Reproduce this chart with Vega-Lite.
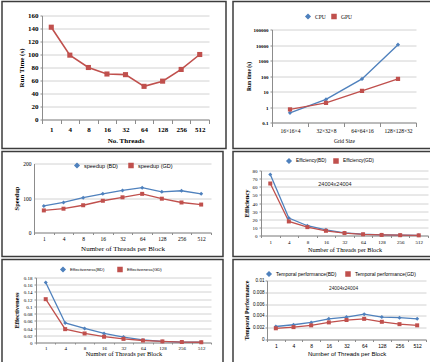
{
  "$schema": "https://vega.github.io/schema/vega-lite/v6.json",
  "background": "white",
  "padding": {"left": 1, "top": 0.5, "right": 0, "bottom": 0},
  "spacing": 1,
  "resolve": {"scale": {"color": "independent", "shape": "independent"}, "legend": {"color": "independent", "shape": "independent"}},
  "vconcat": [
    {
      "spacing": 5,
      "resolve": {"scale": {"color": "independent", "shape": "independent"}, "legend": {"color": "independent", "shape": "independent"}},
      "hconcat": [
        {
          "width": 224, "height": 147,
          "data": {"values": [
            {"t": "1", "v": 142}, {"t": "4", "v": 99}, {"t": "8", "v": 80}, {"t": "16", "v": 70}, {"t": "32", "v": 69},
            {"t": "64", "v": 51}, {"t": "128", "v": 59}, {"t": "256", "v": 77}, {"t": "512", "v": 100}
          ]},
          "encoding": {
            "x": {"field": "t", "type": "ordinal", "sort": null,
              "scale": {"type": "band", "range": [40, 207], "paddingInner": 0, "paddingOuter": 0},
              "axis": {"title": "No. Threads", "offset": -29, "tickSize": 4, "labelPadding": 2, "labelFontSize": 7, "labelFontWeight": "bold", "titleFontSize": 7, "titleFontWeight": "bold", "titlePadding": 4, "labelOverlap": false}},
            "y": {"field": "v", "type": "quantitative",
              "scale": {"domain": [0, 160], "range": [118, 14], "nice": false},
              "axis": {"title": "Run Time (s)", "values": [0, 20, 40, 60, 80, 100, 120, 140, 160], "offset": -40, "tickSize": 2, "labelPadding": 2, "labelFontSize": 7, "labelFontWeight": "bold", "titleFontSize": 7, "titleFontWeight": "bold", "titlePadding": 3}}
          },
          "layer": [
            {"mark": {"type": "line", "color": "#C0504D", "strokeWidth": 1.6}},
            {"mark": {"type": "square", "color": "#C0504D", "filled": true, "opacity": 1, "size": 26}}
          ]
        },
        {
          "width": 198, "height": 147,
          "data": {"values": [
            {"g": "16×16×4", "s": "CPU", "v": 0.42}, {"g": "32×32×8", "s": "CPU", "v": 3.1}, {"g": "64×64×16", "s": "CPU", "v": 65}, {"g": "128×128×32", "s": "CPU", "v": 10500},
            {"g": "16×16×4", "s": "GPU", "v": 0.7}, {"g": "32×32×8", "s": "GPU", "v": 1.85}, {"g": "64×64×16", "s": "GPU", "v": 11}, {"g": "128×128×32", "s": "GPU", "v": 65}
          ]},
          "encoding": {
            "x": {"field": "g", "type": "ordinal", "sort": null,
              "scale": {"type": "band", "range": [39, 183], "paddingInner": 0, "paddingOuter": 0},
              "axis": {"title": "Grid Size", "offset": -26, "tickSize": 4, "labelPadding": 2, "labelFontSize": 5.5, "titleFontSize": 5.5, "titleFontWeight": "normal", "titlePadding": 4, "labelOverlap": false}},
            "y": {"field": "v", "type": "quantitative",
              "scale": {"type": "log", "domain": [0.1, 100000], "range": [121, 28], "nice": false},
              "axis": {"title": "Run time (s)", "values": [0.1, 1, 10, 100, 1000, 10000, 100000], "format": "~g", "offset": -39, "tickSize": 2, "labelPadding": 2, "labelFontSize": 5, "labelFontWeight": "bold", "titleFontSize": 5.5, "titleFontWeight": "bold", "titlePadding": 2, "labelOverlap": false}}
          },
          "layer": [
            {"mark": {"type": "line", "strokeWidth": 1.4},
              "encoding": {"color": {"field": "s", "type": "nominal", "scale": {"domain": ["CPU", "GPU"], "range": ["#4F81BD", "#C0504D"]},
                "legend": {"title": null, "orient": "none", "direction": "horizontal", "legendX": 72, "legendY": 12, "labelFont": "Liberation Serif", "labelFontSize": 5.5, "columnPadding": 3, "symbolSize": 16, "padding": 0}}}},
            {"mark": {"type": "point", "filled": true, "opacity": 1, "size": 18},
              "encoding": {
                "color": {"field": "s", "type": "nominal", "scale": {"domain": ["CPU", "GPU"], "range": ["#4F81BD", "#C0504D"]},
                  "legend": {"title": null, "orient": "none", "direction": "horizontal", "legendX": 72, "legendY": 12, "labelFont": "Liberation Serif", "labelFontSize": 5.5, "columnPadding": 3, "symbolSize": 16, "padding": 0}},
                "shape": {"field": "s", "type": "nominal", "scale": {"domain": ["CPU", "GPU"], "range": ["diamond", "square"]},
                  "legend": {"title": null, "orient": "none", "direction": "horizontal", "legendX": 72, "legendY": 12, "labelFont": "Liberation Serif", "labelFontSize": 5.5, "columnPadding": 3, "symbolSize": 16, "padding": 0}}
              }}
          ]
        }
      ]
    },
    {
      "spacing": 8,
      "resolve": {"scale": {"color": "independent", "shape": "independent"}, "legend": {"color": "independent", "shape": "independent"}},
      "hconcat": [
        {
          "width": 221, "height": 105,
          "data": {"values": [
            {"t": "1", "s": "speedup (BD)", "v": 77}, {"t": "4", "s": "speedup (BD)", "v": 87}, {"t": "8", "s": "speedup (BD)", "v": 101}, {"t": "16", "s": "speedup (BD)", "v": 112}, {"t": "32", "s": "speedup (BD)", "v": 122},
            {"t": "64", "s": "speedup (BD)", "v": 130}, {"t": "128", "s": "speedup (BD)", "v": 118}, {"t": "256", "s": "speedup (BD)", "v": 121}, {"t": "512", "s": "speedup (BD)", "v": 112},
            {"t": "1", "s": "speedup (GD)", "v": 64}, {"t": "4", "s": "speedup (GD)", "v": 69}, {"t": "8", "s": "speedup (GD)", "v": 79}, {"t": "16", "s": "speedup (GD)", "v": 92}, {"t": "32", "s": "speedup (GD)", "v": 102},
            {"t": "64", "s": "speedup (GD)", "v": 112}, {"t": "128", "s": "speedup (GD)", "v": 98}, {"t": "256", "s": "speedup (GD)", "v": 87}, {"t": "512", "s": "speedup (GD)", "v": 81}
          ]},
          "encoding": {
            "x": {"field": "t", "type": "ordinal", "sort": null,
              "scale": {"type": "band", "range": [32, 209], "paddingInner": 0, "paddingOuter": 0},
              "axis": {"title": "Number of Threads per Block", "offset": -24, "tickSize": 2, "labelPadding": 1.5, "labelFontSize": 5.5, "titleFontSize": 7, "titleFontWeight": "normal", "titlePadding": 2.5, "labelOverlap": false}},
            "y": {"field": "v", "type": "quantitative",
              "scale": {"domain": [0, 200], "range": [81, 12], "nice": false},
              "axis": {"title": "Speedup", "values": [0, 100, 200], "offset": -32, "tickSize": 0, "labelPadding": 3, "labelFontSize": 5.5, "titleFontSize": 6.5, "titleFontWeight": "bold", "titlePadding": 3.5}}
          },
          "layer": [
            {"mark": {"type": "line", "strokeWidth": 1.3},
              "encoding": {"color": {"field": "s", "type": "nominal", "scale": {"domain": ["speedup (BD)", "speedup (GD)"], "range": ["#4F81BD", "#C0504D"]},
                "legend": {"title": null, "orient": "none", "direction": "horizontal", "legendX": 72, "legendY": 11, "labelFont": "Liberation Sans", "labelFontSize": 5.5, "columnPadding": 8, "symbolSize": 16, "padding": 0}}}},
            {"mark": {"type": "point", "filled": true, "opacity": 1, "size": 16},
              "encoding": {
                "color": {"field": "s", "type": "nominal", "scale": {"domain": ["speedup (BD)", "speedup (GD)"], "range": ["#4F81BD", "#C0504D"]},
                  "legend": {"title": null, "orient": "none", "direction": "horizontal", "legendX": 72, "legendY": 11, "labelFont": "Liberation Sans", "labelFontSize": 5.5, "columnPadding": 8, "symbolSize": 16, "padding": 0}},
                "shape": {"field": "s", "type": "nominal", "scale": {"domain": ["speedup (BD)", "speedup (GD)"], "range": ["diamond", "square"]},
                  "legend": {"title": null, "orient": "none", "direction": "horizontal", "legendX": 72, "legendY": 11, "labelFont": "Liberation Sans", "labelFontSize": 5.5, "columnPadding": 8, "symbolSize": 16, "padding": 0}}
              }}
          ]
        },
        {
          "width": 198, "height": 105,
          "data": {"values": [
            {"t": "1", "s": "Efficiency(BD)", "v": 75}, {"t": "4", "s": "Efficiency(BD)", "v": 21.4}, {"t": "8", "s": "Efficiency(BD)", "v": 12}, {"t": "16", "s": "Efficiency(BD)", "v": 7}, {"t": "32", "s": "Efficiency(BD)", "v": 3.3},
            {"t": "64", "s": "Efficiency(BD)", "v": 1.6}, {"t": "128", "s": "Efficiency(BD)", "v": 0.8}, {"t": "256", "s": "Efficiency(BD)", "v": 0.4}, {"t": "512", "s": "Efficiency(BD)", "v": 0.2},
            {"t": "1", "s": "Efficiency(GD)", "v": 64}, {"t": "4", "s": "Efficiency(GD)", "v": 17.3}, {"t": "8", "s": "Efficiency(GD)", "v": 10.3}, {"t": "16", "s": "Efficiency(GD)", "v": 5.8}, {"t": "32", "s": "Efficiency(GD)", "v": 3},
            {"t": "64", "s": "Efficiency(GD)", "v": 1.5}, {"t": "128", "s": "Efficiency(GD)", "v": 0.7}, {"t": "256", "s": "Efficiency(GD)", "v": 0.4}, {"t": "512", "s": "Efficiency(GD)", "v": 0.2}
          ]},
          "encoding": {
            "x": {"field": "t", "type": "ordinal", "sort": null,
              "scale": {"type": "band", "range": [28, 195], "paddingInner": 0, "paddingOuter": 0},
              "axis": {"title": "Number  of Threads per Block", "offset": -21, "tickSize": 2, "labelPadding": 2, "labelFontSize": 5, "titleFontSize": 6.2, "titleFontWeight": "normal", "titlePadding": 1.5, "labelOverlap": false}},
            "y": {"field": "v", "type": "quantitative",
              "scale": {"domain": [0, 80], "range": [84, 19], "nice": false},
              "axis": {"title": "Efficiency", "values": [0, 10, 20, 30, 40, 50, 60, 70, 80], "offset": -28, "tickSize": 2, "labelPadding": 2, "labelFontSize": 5, "titleFontSize": 6.5, "titleFontWeight": "bold", "titlePadding": 2.5}}
          },
          "layer": [
            {"mark": {"type": "line", "strokeWidth": 1.3},
              "encoding": {"color": {"field": "s", "type": "nominal", "scale": {"domain": ["Efficiency(BD)", "Efficiency(GD)"], "range": ["#4F81BD", "#C0504D"]},
                "legend": {"title": null, "orient": "none", "direction": "horizontal", "legendX": 53, "legendY": 6.5, "labelFont": "Liberation Sans", "labelFontSize": 4.8, "columnPadding": 4, "symbolSize": 16, "padding": 0}}}},
            {"mark": {"type": "point", "filled": true, "opacity": 1, "size": 16},
              "encoding": {
                "color": {"field": "s", "type": "nominal", "scale": {"domain": ["Efficiency(BD)", "Efficiency(GD)"], "range": ["#4F81BD", "#C0504D"]},
                  "legend": {"title": null, "orient": "none", "direction": "horizontal", "legendX": 53, "legendY": 6.5, "labelFont": "Liberation Sans", "labelFontSize": 4.8, "columnPadding": 4, "symbolSize": 16, "padding": 0}},
                "shape": {"field": "s", "type": "nominal", "scale": {"domain": ["Efficiency(BD)", "Efficiency(GD)"], "range": ["diamond", "square"]},
                  "legend": {"title": null, "orient": "none", "direction": "horizontal", "legendX": 53, "legendY": 6.5, "labelFont": "Liberation Sans", "labelFontSize": 4.8, "columnPadding": 4, "symbolSize": 16, "padding": 0}}
              }},
            {"data": {"values": [{"t": "16", "v": 62.8, "label": "24004x24004"}]},
              "mark": {"type": "text", "dx": 9, "font": "Liberation Sans", "fontSize": 5.5, "color": "#222"},
              "encoding": {"text": {"field": "label"}}}
          ]
        }
      ]
    },
    {
      "spacing": 8,
      "resolve": {"scale": {"color": "independent", "shape": "independent"}, "legend": {"color": "independent", "shape": "independent"}},
      "hconcat": [
        {
          "width": 221, "height": 104,
          "data": {"values": [
            {"t": "1", "s": "Effectiveness(BD)", "v": 0.166}, {"t": "4", "s": "Effectiveness(BD)", "v": 0.054}, {"t": "8", "s": "Effectiveness(BD)", "v": 0.039}, {"t": "16", "s": "Effectiveness(BD)", "v": 0.025}, {"t": "32", "s": "Effectiveness(BD)", "v": 0.015},
            {"t": "64", "s": "Effectiveness(BD)", "v": 0.007}, {"t": "128", "s": "Effectiveness(BD)", "v": 0.003}, {"t": "256", "s": "Effectiveness(BD)", "v": 0.0013}, {"t": "512", "s": "Effectiveness(BD)", "v": 0.0008},
            {"t": "1", "s": "Effectiveness(GD)", "v": 0.12}, {"t": "4", "s": "Effectiveness(GD)", "v": 0.037}, {"t": "8", "s": "Effectiveness(GD)", "v": 0.025}, {"t": "16", "s": "Effectiveness(GD)", "v": 0.016}, {"t": "32", "s": "Effectiveness(GD)", "v": 0.01},
            {"t": "64", "s": "Effectiveness(GD)", "v": 0.0055}, {"t": "128", "s": "Effectiveness(GD)", "v": 0.003}, {"t": "256", "s": "Effectiveness(GD)", "v": 0.0013}, {"t": "512", "s": "Effectiveness(GD)", "v": 0.0007}
          ]},
          "encoding": {
            "x": {"field": "t", "type": "ordinal", "sort": null,
              "scale": {"type": "band", "range": [34, 209], "paddingInner": 0, "paddingOuter": 0},
              "axis": {"title": "Number  of Threads per Block", "offset": -21, "tickSize": 1.5, "labelPadding": 1, "labelFontSize": 5, "titleFontSize": 6.4, "titleFontWeight": "normal", "titlePadding": 0.5, "labelOverlap": false}},
            "y": {"field": "v", "type": "quantitative",
              "scale": {"domain": [0, 0.18], "range": [83, 18], "nice": false},
              "axis": {"title": "Effectiveness", "values": [0, 0.02, 0.04, 0.06, 0.08, 0.1, 0.12, 0.14, 0.16, 0.18], "format": "~g", "offset": -34, "tickSize": 2, "labelPadding": 2, "labelFontSize": 5, "titleFontSize": 6.5, "titleFontWeight": "bold", "titlePadding": 4}}
          },
          "layer": [
            {"mark": {"type": "line", "strokeWidth": 1.3},
              "encoding": {"color": {"field": "s", "type": "nominal", "scale": {"domain": ["Effectiveness(BD)", "Effectiveness(GD)"], "range": ["#4F81BD", "#C0504D"]},
                "legend": {"title": null, "orient": "none", "direction": "horizontal", "legendX": 58, "legendY": 7, "labelFont": "Liberation Sans", "labelFontSize": 4.3, "columnPadding": 10, "symbolSize": 16, "padding": 0}}}},
            {"mark": {"type": "point", "filled": true, "opacity": 1, "size": 16},
              "encoding": {
                "color": {"field": "s", "type": "nominal", "scale": {"domain": ["Effectiveness(BD)", "Effectiveness(GD)"], "range": ["#4F81BD", "#C0504D"]},
                  "legend": {"title": null, "orient": "none", "direction": "horizontal", "legendX": 58, "legendY": 7, "labelFont": "Liberation Sans", "labelFontSize": 4.3, "columnPadding": 10, "symbolSize": 16, "padding": 0}},
                "shape": {"field": "s", "type": "nominal", "scale": {"domain": ["Effectiveness(BD)", "Effectiveness(GD)"], "range": ["diamond", "square"]},
                  "legend": {"title": null, "orient": "none", "direction": "horizontal", "legendX": 58, "legendY": 7, "labelFont": "Liberation Sans", "labelFontSize": 4.3, "columnPadding": 10, "symbolSize": 16, "padding": 0}}
              }}
          ]
        },
        {
          "width": 198, "height": 104,
          "data": {"values": [
            {"t": "1", "s": "Temporal performance(BD)", "v": 0.0022}, {"t": "4", "s": "Temporal performance(BD)", "v": 0.0025}, {"t": "8", "s": "Temporal performance(BD)", "v": 0.0029}, {"t": "16", "s": "Temporal performance(BD)", "v": 0.0035}, {"t": "32", "s": "Temporal performance(BD)", "v": 0.0038},
            {"t": "64", "s": "Temporal performance(BD)", "v": 0.0043}, {"t": "128", "s": "Temporal performance(BD)", "v": 0.0038}, {"t": "256", "s": "Temporal performance(BD)", "v": 0.0037}, {"t": "512", "s": "Temporal performance(BD)", "v": 0.0035},
            {"t": "1", "s": "Temporal performance(GD)", "v": 0.0019}, {"t": "4", "s": "Temporal performance(GD)", "v": 0.0021}, {"t": "8", "s": "Temporal performance(GD)", "v": 0.0024}, {"t": "16", "s": "Temporal performance(GD)", "v": 0.0029}, {"t": "32", "s": "Temporal performance(GD)", "v": 0.0033},
            {"t": "64", "s": "Temporal performance(GD)", "v": 0.0035}, {"t": "128", "s": "Temporal performance(GD)", "v": 0.003}, {"t": "256", "s": "Temporal performance(GD)", "v": 0.0026}, {"t": "512", "s": "Temporal performance(GD)", "v": 0.0024}
          ]},
          "encoding": {
            "x": {"field": "t", "type": "ordinal", "sort": null,
              "scale": {"type": "band", "range": [34, 193], "paddingInner": 0, "paddingOuter": 0},
              "axis": {"title": "Number of Threads per Block", "offset": -24, "tickSize": 2, "labelPadding": 1.5, "labelFontSize": 5, "labelFont": "Liberation Sans", "titleFont": "Liberation Sans", "titleFontSize": 6, "titleFontWeight": "normal", "titlePadding": 2.5, "labelOverlap": false}},
            "y": {"field": "v", "type": "quantitative",
              "scale": {"domain": [0, 0.01], "range": [80, 21], "nice": false},
              "axis": {"title": "Temporal Performance", "values": [0, 0.002, 0.004, 0.006, 0.008, 0.01], "format": "~g", "offset": -34, "tickSize": 2, "labelPadding": 1, "labelFontSize": 4.6, "labelFont": "Liberation Sans", "titleFontSize": 6, "titleFontWeight": "bold", "titlePadding": 3}}
          },
          "layer": [
            {"mark": {"type": "line", "strokeWidth": 1.3},
              "encoding": {"color": {"field": "s", "type": "nominal", "scale": {"domain": ["Temporal performance(BD)", "Temporal performance(GD)"], "range": ["#4F81BD", "#C0504D"]},
                "legend": {"title": null, "orient": "none", "direction": "horizontal", "legendX": 33, "legendY": 11.5, "labelFont": "Liberation Sans", "labelFontSize": 5, "columnPadding": 6, "symbolSize": 16, "padding": 0}}}},
            {"mark": {"type": "point", "filled": true, "opacity": 1, "size": 16},
              "encoding": {
                "color": {"field": "s", "type": "nominal", "scale": {"domain": ["Temporal performance(BD)", "Temporal performance(GD)"], "range": ["#4F81BD", "#C0504D"]},
                  "legend": {"title": null, "orient": "none", "direction": "horizontal", "legendX": 33, "legendY": 11.5, "labelFont": "Liberation Sans", "labelFontSize": 5, "columnPadding": 6, "symbolSize": 16, "padding": 0}},
                "shape": {"field": "s", "type": "nominal", "scale": {"domain": ["Temporal performance(BD)", "Temporal performance(GD)"], "range": ["diamond", "square"]},
                  "legend": {"title": null, "orient": "none", "direction": "horizontal", "legendX": 33, "legendY": 11.5, "labelFont": "Liberation Sans", "labelFontSize": 5, "columnPadding": 6, "symbolSize": 16, "padding": 0}}
              }},
            {"data": {"values": [{"t": "32", "v": 0.00864, "label": "24004x24004"}]},
              "mark": {"type": "text", "dx": -3, "font": "Liberation Sans", "fontSize": 4.8, "color": "#222"},
              "encoding": {"text": {"field": "label"}}}
          ]
        }
      ]
    }
  ],
  "config": {
    "view": {"stroke": "#3c3c3c", "strokeWidth": 1.5},
    "axis": {"domainColor": "#8c8c8c", "tickColor": "#8c8c8c", "gridColor": "#c6c6c6", "gridWidth": 0.8, "labelColor": "#000000", "titleColor": "#000000", "labelFont": "Liberation Serif", "titleFont": "Liberation Serif", "labelAngle": 0},
    "axisX": {"grid": false, "tickBand": "extent"},
    "axisY": {"grid": true}
  }
}
